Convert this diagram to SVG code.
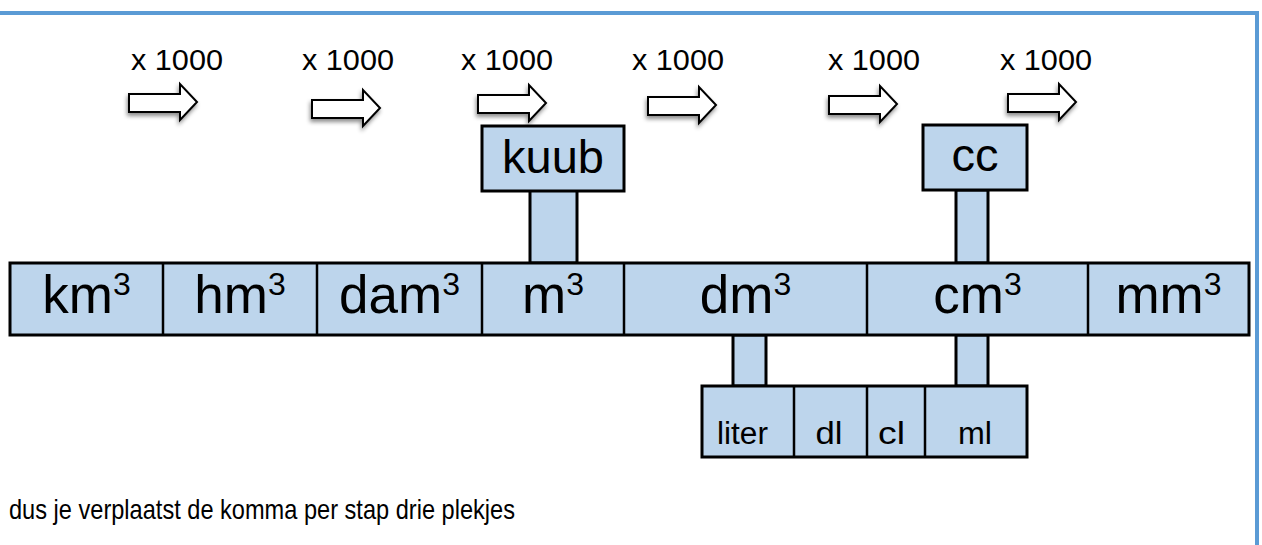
<svg xmlns="http://www.w3.org/2000/svg" width="1262" height="545" viewBox="0 0 1262 545">
<style>
text{font-family:"Liberation Sans",Arial,sans-serif;fill:#000}
.cell{fill:#BDD5EC;stroke:#000;stroke-width:3}
.div{stroke:#000;stroke-width:2.5}
.big{font-size:53px}
.sup{font-size:32px}
.lbl{font-size:29px}
.sm{font-size:31px}
.arr{fill:#fff;stroke:#000;stroke-width:2}
</style>
<defs>
<filter id="sh" x="-20%" y="-30%" width="140%" height="170%">
<feDropShadow dx="-1" dy="3" stdDeviation="2" flood-color="#000" flood-opacity="0.45"/>
</filter>
<path id="ar" d="M0,10 H51 V0 L68,18 L51,36 V28 H0 Z"/>
</defs>
<rect x="-10" y="13" width="1267" height="600" fill="#fff" stroke="#5B9BD5" stroke-width="4"/>

<g id="arrows">
<g id="step1"><text class="lbl" x="131" y="70" textLength="92" lengthAdjust="spacingAndGlyphs">x 1000</text><use href="#ar" class="arr" filter="url(#sh)" x="129" y="84"/></g>
<g id="step2"><text class="lbl" x="302" y="70" textLength="92" lengthAdjust="spacingAndGlyphs">x 1000</text><use href="#ar" class="arr" filter="url(#sh)" x="312" y="90"/></g>
<g id="step3"><text class="lbl" x="461" y="70" textLength="92" lengthAdjust="spacingAndGlyphs">x 1000</text><use href="#ar" class="arr" filter="url(#sh)" x="478" y="85"/></g>
<g id="step4"><text class="lbl" x="632" y="70" textLength="92" lengthAdjust="spacingAndGlyphs">x 1000</text><use href="#ar" class="arr" filter="url(#sh)" x="648" y="87"/></g>
<g id="step5"><text class="lbl" x="828" y="70" textLength="92" lengthAdjust="spacingAndGlyphs">x 1000</text><use href="#ar" class="arr" filter="url(#sh)" x="829" y="86"/></g>
<g id="step6"><text class="lbl" x="1000" y="70" textLength="92" lengthAdjust="spacingAndGlyphs">x 1000</text><use href="#ar" class="arr" filter="url(#sh)" x="1008" y="84"/></g>
</g>

<g id="connectors">
<rect class="cell" x="530" y="190" width="47" height="73"/>
<rect class="cell" x="956" y="190" width="32" height="73"/>
<rect class="cell" x="733" y="335" width="33" height="51"/>
<rect class="cell" x="956" y="335" width="32" height="51"/>
</g>

<g id="kuub">
<rect class="cell" x="482" y="126" width="142" height="65"/>
<text x="553" y="173" font-size="47" text-anchor="middle">kuub</text>
</g>
<g id="cc">
<rect class="cell" x="923" y="125" width="104" height="65"/>
<text x="975" y="171" font-size="47" text-anchor="middle">cc</text>
</g>

<g id="units3">
<rect class="cell" x="10" y="263" width="1239" height="72"/>
<line class="div" x1="163" y1="263" x2="163" y2="335"/>
<line class="div" x1="317" y1="263" x2="317" y2="335"/>
<line class="div" x1="482" y1="263" x2="482" y2="335"/>
<line class="div" x1="624" y1="263" x2="624" y2="335"/>
<line class="div" x1="867" y1="263" x2="867" y2="335"/>
<line class="div" x1="1088" y1="263" x2="1088" y2="335"/>
<g id="km3"><text class="big" x="86.5" y="313" text-anchor="middle">km<tspan class="sup" dy="-18">3</tspan></text></g>
<g id="hm3"><text class="big" x="240" y="313" text-anchor="middle">hm<tspan class="sup" dy="-18">3</tspan></text></g>
<g id="dam3"><text class="big" x="399.5" y="313" text-anchor="middle">dam<tspan class="sup" dy="-18">3</tspan></text></g>
<g id="m3"><text class="big" x="553" y="313" text-anchor="middle">m<tspan class="sup" dy="-18">3</tspan></text></g>
<g id="dm3"><text class="big" x="745.5" y="313" text-anchor="middle">dm<tspan class="sup" dy="-18">3</tspan></text></g>
<g id="cm3"><text class="big" x="977.5" y="313" text-anchor="middle">cm<tspan class="sup" dy="-18">3</tspan></text></g>
<g id="mm3"><text class="big" x="1168.5" y="313" text-anchor="middle">mm<tspan class="sup" dy="-18">3</tspan></text></g>
</g>

<g id="liters">
<rect class="cell" x="702" y="386" width="325" height="71"/>
<line class="div" x1="794" y1="386" x2="794" y2="457"/>
<line class="div" x1="867" y1="386" x2="867" y2="457"/>
<line class="div" x1="925" y1="386" x2="925" y2="457"/>
<g id="liter"><text class="sm" x="742.5" y="444" text-anchor="middle" textLength="51" lengthAdjust="spacingAndGlyphs">liter</text></g>
<g id="dl"><text class="sm" x="829" y="444" text-anchor="middle" textLength="27" lengthAdjust="spacingAndGlyphs">dl</text></g>
<g id="cl"><text class="sm" x="891.5" y="444" text-anchor="middle" textLength="27" lengthAdjust="spacingAndGlyphs">cl</text></g>
<g id="ml"><text class="sm" x="975" y="444" text-anchor="middle" textLength="34" lengthAdjust="spacingAndGlyphs">ml</text></g>
</g>

<g id="note">
<text x="9" y="519" font-size="28" textLength="506" lengthAdjust="spacingAndGlyphs">dus je verplaatst de komma per stap drie plekjes</text>
</g>
</svg>
